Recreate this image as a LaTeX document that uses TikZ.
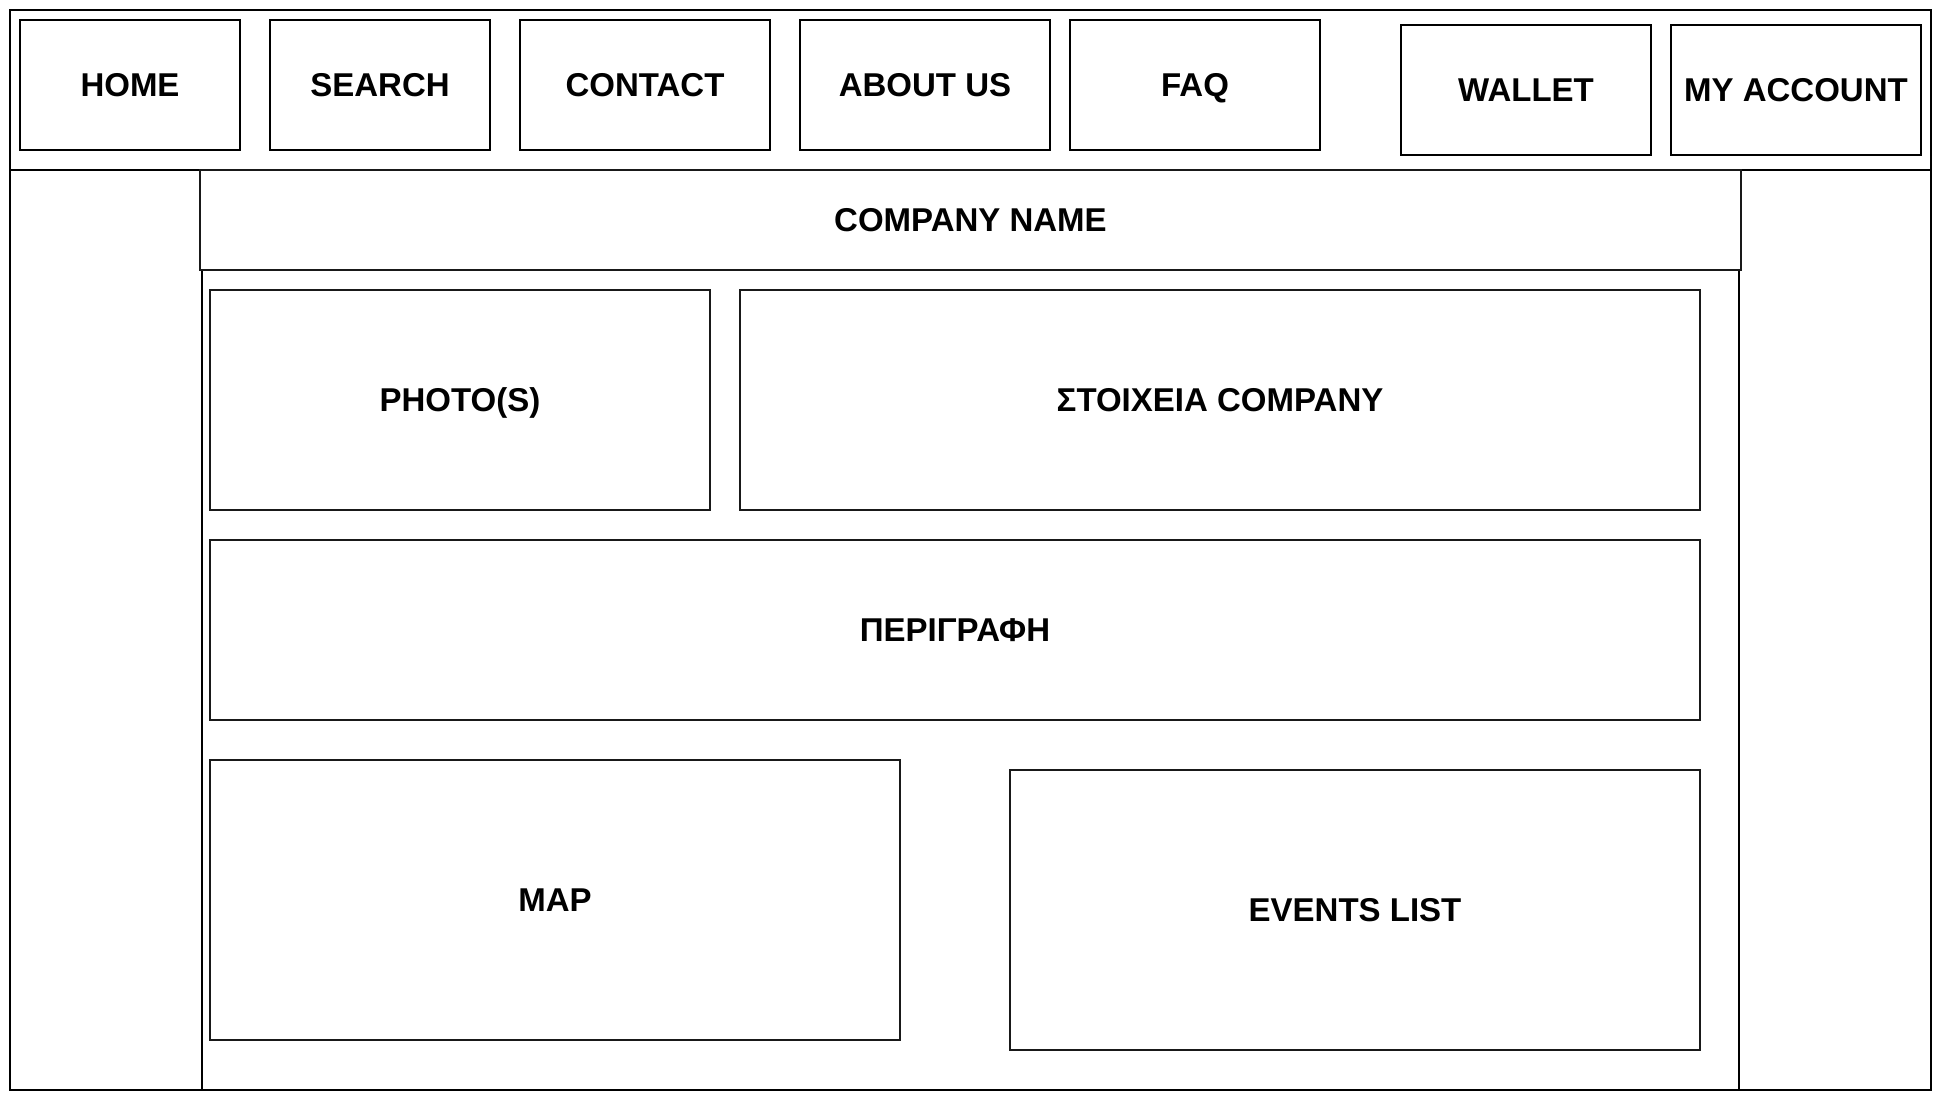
\documentclass[tikz,border=0pt]{standalone}
\usepackage{fontspec}
\setmainfont{Liberation Sans}
\begin{document}
\begin{tikzpicture}[x=1pt,y=-1pt,
  thinline/.style={draw=black,line width=1.3pt},
  labeltext/.style={font=\fontsize{33}{38}\selectfont\bfseries,text height=23.6pt,text depth=0pt},
  navbox/.style={draw=black,line width=1.4pt,inner sep=0pt,labeltext},
  contentbox/.style={draw=black!90,line width=2pt,inner sep=0pt,labeltext}]
\useasboundingbox (0,0) rectangle (1941,1101);
% page frame and header divider
\draw[thinline] (10,10) rectangle (1931,1090);
\coordinate (hl) at (10,170);
\coordinate (hr) at (1931,170);
\draw[thinline] (hl) -- (hr);
% content column
\draw[line width=1.2pt] (202,170) rectangle (1739,1090);
% navigation
\node[navbox,minimum width=220pt,minimum height=130pt] (home) at (130,85) {HOME};
\node[navbox,minimum width=220pt,minimum height=130pt] (search) at (380,85) {SEARCH};
\node[navbox,minimum width=250pt,minimum height=130pt] (contact) at (645,85) {CONTACT};
\node[navbox,minimum width=250pt,minimum height=130pt] (about) at (925,85) {ABOUT US};
\node[navbox,minimum width=250pt,minimum height=130pt] (faq) at (1195,85) {FAQ};
\node[navbox,minimum width=250pt,minimum height=130pt] (wallet) at (1526,90) {WALLET};
\node[navbox,minimum width=250pt,minimum height=130pt] (account) at (1796,90) {MY ACCOUNT};
% content
\node[contentbox,fill=white,minimum width=1541pt,minimum height=100pt] (company) at (970.5,220) {COMPANY NAME};
\node[contentbox,minimum width=500pt,minimum height=220pt] (photo) at (460,400) {PHOTO(S)};
\node[contentbox,minimum width=960pt,minimum height=220pt] (stoixeia) at (1220,400) {ΣΤΟΙΧΕΙΑ COMPANY};
\node[contentbox,minimum width=1490pt,minimum height=180pt] (perigrafi) at (955,630) {ΠΕΡΙΓΡΑΦΗ};
\node[contentbox,minimum width=690pt,minimum height=280pt] (map) at (555,900) {MAP};
\node[contentbox,minimum width=690pt,minimum height=280pt] (events) at (1355,910) {EVENTS LIST};
\end{tikzpicture}
\end{document}
